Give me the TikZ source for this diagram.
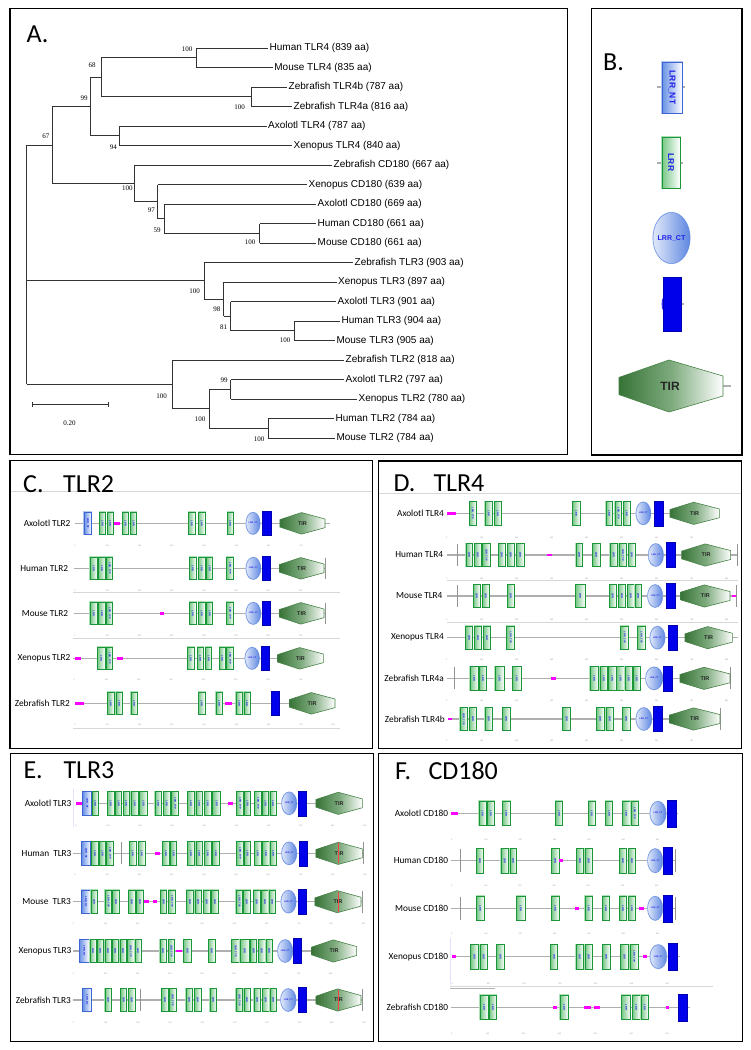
\documentclass[tikz,border=0pt]{standalone}
\usepackage{fontspec}
\setmainfont{Liberation Sans}
\newfontfamily\calfont{Carlito}
\newfontfamily\serfont{Liberation Serif}
\newcount\qnodecnt
\definecolor{lrrdark}{RGB}{25,150,55}
\definecolor{lrrlight}{RGB}{175,225,185}
\definecolor{lrrfill}{RGB}{120,200,135}
\definecolor{ntdark}{RGB}{60,100,210}
\definecolor{ntlight}{RGB}{180,200,240}
\definecolor{ntfill}{RGB}{105,145,230}
\definecolor{ctl}{RGB}{225,233,250}
\definecolor{ctr}{RGB}{95,135,225}
\definecolor{blueb}{RGB}{0,0,235}
\definecolor{pinkc}{RGB}{255,0,255}
\definecolor{tirdark}{RGB}{55,115,55}
\definecolor{tirmid}{RGB}{125,170,125}
\definecolor{tirline}{RGB}{70,130,70}
\definecolor{bbgray}{RGB}{175,175,175}
\definecolor{sepgray}{RGB}{215,215,215}
\definecolor{txtblue}{RGB}{30,30,230}
\tikzset{
 nm/.code={\global\advance\qnodecnt by 1\relax\edef\qtmp{\noexpand\tikzset{name=q\the\qnodecnt}}\qtmp},
 panel/.style={draw=black, line width=1.3pt},
 tree/.style={draw=black!80, line width=0.8pt},
 treelab/.style={nm, anchor=west, inner sep=0pt, font=\fontsize{10}{12}\selectfont},
 boot/.style={nm, inner sep=0pt, font=\serfont\fontsize{7}{8}\selectfont},
 paneltitle/.style={nm, anchor=base west, inner sep=0pt, font=\calfont\fontsize{26}{30}\selectfont},
 rowlab/.style={nm, anchor=east, inner sep=0pt, font=\calfont\fontsize{9.3}{11}\selectfont},
 rul/.style={nm, inner sep=0pt, text=gray!80, font=\fontsize{2}{2.4}\selectfont},
 bb/.style={draw=bbgray, line width=1.4pt},
 stub/.style={draw=bbgray, line width=1.5pt},
 vbar/.style={draw=gray!85, line width=0.9pt},
 sepline/.style={draw=sepgray, line width=0.6pt},
 lrrhalo/.style={draw=lrrlight, line width=1.4pt},
 lrrbox/.style={draw=lrrdark, line width=0.55pt, left color=lrrfill, right color=white},
 nthalo/.style={draw=ntlight, line width=1.4pt},
 ntbox/.style={draw=ntdark, line width=0.55pt, left color=ntfill, right color=white},
 cthalo/.style={draw=ntlight, line width=1.2pt},
 ctbox/.style={draw=ctr, line width=0.4pt, left color=ctl, right color=ctr},
 bluebox/.style={fill=blueb, draw=blue!70!black, line width=0.3pt},
 pinkbox/.style={fill=pinkc},
 tirbox/.style={draw=tirline, line width=0.6pt, left color=tirdark, right color=white, middle color=tirmid},
 lrrt/.style={nm, inner sep=0pt, rotate=-90, text=txtblue, font=\bfseries\fontsize{2.6}{3}\selectfont},
 ctt/.style={nm, inner sep=0pt, text=txtblue, font=\bfseries\fontsize{2.2}{2.6}\selectfont},
 tirt/.style={nm, inner sep=0pt, text=black!85, font=\bfseries\fontsize{5.5}{6}\selectfont},
}
\newcommand\qBk[2]{\draw[bb] (#1,\qry) -- (#2,\qry);}
\newcommand\qVb[1]{\draw[vbar] (#1,\qry-0.95*\qdh) -- (#1,\qry+0.95*\qdh);}
\newcommand\qRd[1]{\draw[draw=red!75, line width=0.5pt] (#1,\qry-0.85*\qdh) -- (#1,\qry+0.85*\qdh);}
\newcommand\qPk[2]{\path[pinkbox] (#1,\qry-4) rectangle (#2,\qry+4);}
\newcommand\qLx[3]{\path[lrrhalo] (#1,\qry-\qdh) rectangle (#2,\qry+\qdh);\path[lrrbox] (#1,\qry-\qdh) rectangle (#2,\qry+\qdh);\node[lrrt] at ({(#1+#2)/2},\qry) {#3};}
\newcommand\qLr[2]{\qLx{#1}{#2}{LRR}}
\newcommand\qLt[2]{\qLx{#1}{#2}{LRR\_TYP}}
\newcommand\qNt[2]{\path[nthalo] (#1,\qry-\qdh) rectangle (#2,\qry+\qdh);\path[ntbox] (#1,\qry-\qdh) rectangle (#2,\qry+\qdh);\node[lrrt] at ({(#1+#2)/2},\qry) {LRR\_NT};}
\newcommand\qEl[2]{%
\pgfmathsetlengthmacro\qrx{(#2-#1)/6}%
\pgfmathsetlengthmacro\qryy{0.97*\qdh/3}%
\path[cthalo] ({(#1+#2)/2},\qry) ellipse [x radius=\qrx, y radius=\qryy];
\path[ctbox] ({(#1+#2)/2},\qry) ellipse [x radius=\qrx, y radius=\qryy];
\node[ctt] at ({(#1+#2)/2},\qry) {LRR\_CT};}
\newcommand\qBl[2]{\path[bluebox] (#1,\qry-1.08*\qdh) rectangle (#2,\qry+1.08*\qdh);}
\newcommand\qTi[2]{%
\pgfmathsetmacro\qtm{#1+0.48*(#2-#1)}%
\pgfmathsetmacro\qtc{#1+0.5*(#2-#1)}%
\path[tirbox] (#1,\qry-0.33*\qdh) -- (\qtm,\qry-0.95*\qdh) -- (#2,\qry-0.38*\qdh) -- (#2,\qry+0.38*\qdh) -- (\qtm,\qry+0.95*\qdh) -- (#1,\qry+0.33*\qdh) -- cycle;
\node[tirt] at (\qtc,\qry) {TIR};}
\newcommand\qRu[4]{\foreach \qk in {1,...,#4}{\pgfmathsetmacro\qxx{#2+(\qk-1)*#3}\pgfmathtruncatemacro\qlab{(\qk-1)*100}\node[rul] at (\qxx,\qry+#1) {\qlab};}}
\begin{document}
\begin{tikzpicture}[x=1pt,y=-1pt]
\useasboundingbox[fill=white] (0,0) rectangle (750,1050);
% ---------- panel frames
\draw[panel] (10,8.3) rectangle (567.3,454.5);
\draw[panel] (591.7,8.3) rectangle (742,455);
\draw[panel] (10,460.5) rectangle (372.7,748.3);
\draw[panel] (378.5,461) rectangle (741.8,748.3);
\draw[panel] (10.5,753.3) rectangle (373.3,1041.7);
\draw[panel] (378.5,753.3) rectangle (742.3,1041.7);
% ---------- panel A : tree
\node[paneltitle] at (26.5,42) {A.};
\draw[tree] (26.6,144.9) -- (26.6,384.4);
\draw[tree] (26.6,144.9) -- (52.4,144.9);
\draw[tree] (26.6,280.8) -- (203.9,280.8);
\draw[tree] (26.6,384.4) -- (172.6,384.4);
\draw[tree] (52.4,106.5) -- (52.4,183.3);
\draw[tree] (52.4,106.5) -- (90.4,106.5);
\draw[tree] (52.4,183.3) -- (134.7,183.3);
\draw[tree] (90.4,77.25) -- (90.4,135.75);
\draw[tree] (90.4,77.25) -- (101,77.25);
\draw[tree] (90.4,135.75) -- (118.9,135.75);
\draw[tree] (101,57.75) -- (101,96.75);
\draw[tree] (101,57.75) -- (196.3,57.75);
\draw[tree] (101,96.75) -- (251,96.75);
\draw[tree] (196.3,48) -- (196.3,67.5);
\draw[tree] (196.3,48) -- (268,48);
\draw[tree] (196.3,67.5) -- (272.7,67.5);
\draw[tree] (251,87) -- (251,106.5);
\draw[tree] (251,87) -- (287,87);
\draw[tree] (251,106.5) -- (292,106.5);
\draw[tree] (118.9,126) -- (118.9,145.5);
\draw[tree] (118.9,126) -- (266.5,126);
\draw[tree] (118.9,145.5) -- (292,145.5);
\draw[tree] (134.7,165) -- (134.7,201.6);
\draw[tree] (134.7,165) -- (332,165);
\draw[tree] (134.7,201.6) -- (157.6,201.6);
\draw[tree] (157.6,184.5) -- (157.6,218.6);
\draw[tree] (157.6,184.5) -- (307,184.5);
\draw[tree] (157.6,218.6) -- (164.2,218.6);
\draw[tree] (164.2,204) -- (164.2,233.25);
\draw[tree] (164.2,204) -- (316,204);
\draw[tree] (164.2,233.25) -- (259.8,233.25);
\draw[tree] (259.8,223.5) -- (259.8,243);
\draw[tree] (259.8,223.5) -- (316,223.5);
\draw[tree] (259.8,243) -- (316,243);
\draw[tree] (203.9,262.5) -- (203.9,299);
\draw[tree] (203.9,262.5) -- (353,262.5);
\draw[tree] (203.9,299) -- (223.5,299);
\draw[tree] (223.5,282) -- (223.5,316.1);
\draw[tree] (223.5,282) -- (336.6,282);
\draw[tree] (223.5,316.1) -- (230.5,316.1);
\draw[tree] (230.5,301.5) -- (230.5,330.75);
\draw[tree] (230.5,301.5) -- (336,301.5);
\draw[tree] (230.5,330.75) -- (294.2,330.75);
\draw[tree] (294.2,321) -- (294.2,340.5);
\draw[tree] (294.2,321) -- (340,321);
\draw[tree] (294.2,340.5) -- (334.8,340.5);
\draw[tree] (172.6,360) -- (172.6,408.75);
\draw[tree] (172.6,360) -- (344,360);
\draw[tree] (172.6,408.75) -- (209.4,408.75);
\draw[tree] (209.4,389.25) -- (209.4,428.25);
\draw[tree] (209.4,389.25) -- (230.8,389.25);
\draw[tree] (209.4,428.25) -- (268.4,428.25);
\draw[tree] (230.8,379.5) -- (230.8,399);
\draw[tree] (230.8,379.5) -- (344,379.5);
\draw[tree] (230.8,399) -- (356.9,399);
\draw[tree] (268.4,418.5) -- (268.4,438);
\draw[tree] (268.4,418.5) -- (334,418.5);
\draw[tree] (268.4,438) -- (334.8,438);
\node[treelab] at (269.5,48) {Human TLR4 (839 aa)};
\node[treelab] at (274.2,67.5) {Mouse TLR4 (835 aa)};
\node[treelab] at (288.5,87) {Zebrafish TLR4b (787 aa)};
\node[treelab] at (293.5,106.5) {Zebrafish TLR4a (816 aa)};
\node[treelab] at (268,126) {Axolotl TLR4 (787 aa)};
\node[treelab] at (293.5,145.5) {Xenopus TLR4 (840 aa)};
\node[treelab] at (333.5,165) {Zebrafish CD180 (667 aa)};
\node[treelab] at (308.5,184.5) {Xenopus CD180 (639 aa)};
\node[treelab] at (317.5,204) {Axolotl CD180 (669 aa)};
\node[treelab] at (317.5,223.5) {Human CD180 (661 aa)};
\node[treelab] at (317.5,243) {Mouse CD180 (661 aa)};
\node[treelab] at (354.5,262.5) {Zebrafish TLR3 (903 aa)};
\node[treelab] at (338,282) {Xenopus TLR3 (897 aa)};
\node[treelab] at (337.5,301.5) {Axolotl TLR3 (901 aa)};
\node[treelab] at (341.5,321) {Human TLR3 (904 aa)};
\node[treelab] at (336.3,340.5) {Mouse TLR3 (905 aa)};
\node[treelab] at (345.5,360) {Zebrafish TLR2 (818 aa)};
\node[treelab] at (345.5,379.5) {Axolotl TLR2 (797 aa)};
\node[treelab] at (358.4,399) {Xenopus TLR2 (780 aa)};
\node[treelab] at (335.5,418.5) {Human TLR2 (784 aa)};
\node[treelab] at (336.3,438) {Mouse TLR2 (784 aa)};
\node[boot] at (187,49.3) {100};
\node[boot] at (92,65.7) {68};
\node[boot] at (84,98.7) {99};
\node[boot] at (239.5,107.3) {100};
\node[boot] at (113.3,147.3) {94};
\node[boot] at (45.8,136.7) {67};
\node[boot] at (127.3,188) {100};
\node[boot] at (151.3,210) {97};
\node[boot] at (157,230) {59};
\node[boot] at (250,242.7) {100};
\node[boot] at (194.7,291) {100};
\node[boot] at (216.8,309) {98};
\node[boot] at (223.5,327.3) {81};
\node[boot] at (285,340.7) {100};
\node[boot] at (224,380) {99};
\node[boot] at (161.5,396) {100};
\node[boot] at (200.2,419) {100};
\node[boot] at (259.2,439) {100};
\draw[tree] (32.5,404.3) -- (108,404.3);
\draw[tree] (32.5,401.8) -- (32.5,406.8);
\draw[tree] (108,401.8) -- (108,406.8);
\node[boot] at (69.4,423.3) {0.20};
% ---------- panel B : legend
\node[paneltitle] at (603,70) {B.};
\draw[stub] (656.7,87) -- (662,87);
\draw[stub] (682,87) -- (684.5,87);
\path[nthalo] (662,62) rectangle (682,113);
\path[ntbox] (662,62) rectangle (682,113);
\node[nm, rotate=-90, inner sep=0pt, text=txtblue, font=\bfseries\fontsize{8.5}{9}\selectfont] at (672,87.5) {LRR\_NT};
\draw[stub] (656.7,163) -- (662,163);
\draw[stub] (680,163) -- (683,163);
\path[lrrhalo] (662,137) rectangle (680,188);
\path[lrrbox] (662,137) rectangle (680,188);
\node[nm, rotate=-90, inner sep=0pt, text=txtblue, font=\bfseries\fontsize{8.5}{9}\selectfont] at (671,162.5) {LRR};
\path[cthalo] (671.5,238) ellipse [x radius=18.5pt, y radius=25.5pt];
\path[ctbox] (671.5,238) ellipse [x radius=18.5pt, y radius=25.5pt];
\node[nm, inner sep=0pt, text=txtblue, font=\bfseries\fontsize{7}{8}\selectfont] at (671.5,238) {LRR\_CT};
\draw[stub] (681,304) -- (684,304);
\path[fill=blue!80] (663,304) ellipse [x radius=1.3pt, y radius=6pt];
\path[bluebox] (663,277) rectangle (681,331);
\draw[stub] (723,386) -- (731,386);
\path[tirbox] (619,377.4) -- (669,360) -- (723,376) -- (723,396) -- (669,412) -- (619,394.6) -- cycle;
\node[nm, inner sep=0pt, text=black!85, font=\bfseries\fontsize{12}{13}\selectfont] at (670,386) {TIR};
% ---------- panel titles C-F
\draw[sepline] (10.7,491) -- (372,491);
\draw[sepline] (379,493.3) -- (741,493.3);
\node[paneltitle] at (23,492) {C.};
\node[paneltitle] at (63,492) {TLR2};
\node[paneltitle] at (393.3,491.7) {D.};
\node[paneltitle] at (433.3,491.7) {TLR4};
\node[paneltitle] at (23.3,778.3) {E.};
\node[paneltitle] at (63.3,778.3) {TLR3};
\node[paneltitle] at (395,779.3) {F.};
\node[paneltitle] at (428.3,779.3) {CD180};
% ---------- panel C : TLR2
\begin{scope}[shift={(10,460)}, x=0.33333pt, y=-0.33333pt]
\def\qdh{34}
\def\qry{190}
\node[rowlab] at (182,\qry) {Axolotl TLR2};
\qBk{195}{960}
\qNt{222}{245}
\qLr{268}{287}\qLr{292}{310}\qPk{312}{330}\qLr{337}{356}\qLr{362}{380}\qLr{535}{555}\qLr{565}{585}\qLr{652}{670}
\qEl{708}{750}\qBl{757}{782}\qTi{810}{945}
\qRu{68}{195}{96.9}{8}
\def\qry{325}
\node[rowlab] at (175,\qry) {Human TLR2};
\qBk{192}{945}
\qLr{240}{262}\qLr{265}{287}\qLt{290}{308}\qLr{538}{558}\qLr{565}{585}\qLr{590}{608}\qLt{650}{670}
\qEl{708}{752}\qBl{755}{780}\qTi{808}{942}\qVb{945}
\qRu{67}{195}{96.7}{8}
\draw[sepline] (190,\qry+73) -- (990,\qry+73);
\def\qry{460}
\node[rowlab] at (175,\qry) {Mouse TLR2};
\qBk{192}{945}
\qLr{240}{262}\qLr{265}{287}\qLt{290}{308}\qPk{450}{462}\qLr{538}{558}\qLr{565}{585}\qLr{590}{608}\qLt{650}{670}
\qEl{708}{752}\qBl{755}{780}\qTi{808}{942}\qVb{945}
\qRu{67}{195}{96.7}{8}
\draw[sepline] (190,\qry+75) -- (990,\qry+75);
\def\qry{595}
\node[rowlab] at (182,\qry) {Xenopus TLR2};
\qBk{190}{940}\qPk{195}{212}
\qLr{262}{285}\qLt{290}{308}\qPk{322}{338}\qLr{532}{552}\qLr{562}{580}\qLr{587}{605}\qLr{628}{645}\qLt{650}{670}
\qEl{705}{748}\qBl{752}{777}\qTi{803}{940}
\qRu{65}{192}{97.1}{8}
\def\qry{730}
\node[rowlab] at (180,\qry) {Zebrafish TLR2};
\qBk{195}{975}\qPk{195}{222}
\qLr{293}{312}\qLr{318}{337}\qLr{363}{382}\qLr{565}{585}\qLr{618}{637}\qPk{645}{665}\qLr{678}{697}\qLr{702}{720}
\qBl{782}{807}\qTi{838}{975}
\qRu{65}{195}{96.9}{9}
\draw[sepline] (190,\qry+75) -- (990,\qry+75);
\end{scope}
% ---------- panel D : TLR4
\begin{scope}[shift={(380,460)}, x=0.33333pt, y=-0.33333pt]
\def\qdh{35}
\def\qry{160}
\node[rowlab] at (192,\qry) {Axolotl TLR4};
\qBk{200}{1018}\qPk{200}{228}
\qLt{268}{288}\qLr{315}{337}\qLr{343}{363}\qLr{578}{600}\qLr{678}{698}\qLt{705}{725}\qLr{730}{750}
\qEl{768}{812}\qBl{822}{848}\qTi{870}{1018}
\qRu{72}{200}{105}{8}
\def\qry{285}
\node[rowlab] at (190,\qry) {Human TLR4};
\qBk{200}{1072}\qVb{232}\qVb{1072}
\qLr{258}{278}\qLr{283}{303}\qLt{308}{330}\qLr{355}{375}\qLr{382}{402}\qLr{410}{432}\qPk{502}{515}
\qLr{588}{608}\qLr{638}{660}\qLr{690}{712}\qLt{717}{740}\qLr{745}{765}
\qEl{805}{850}\qBl{858}{885}\qTi{905}{1052}
\qRu{70}{200}{105}{9}
\draw[sepline] (200,\qry+77) -- (1075,\qry+77);
\def\qry{408}
\node[rowlab] at (188,\qry) {Mouse TLR4};
\qBk{200}{1070}\qVb{232}\qVb{1068}
\qLr{280}{300}\qLr{307}{327}\qLr{382}{402}\qLr{587}{615}\qLr{688}{708}\qLr{715}{737}\qLr{742}{762}\qLr{765}{785}
\qEl{803}{848}\qBl{858}{885}\qTi{902}{1050}\qPk{1055}{1068}
\qRu{72}{200}{105}{9}
\draw[sepline] (200,\qry+79) -- (1075,\qry+79);
\def\qry{533}
\node[rowlab] at (192,\qry) {Xenopus TLR4};
\qBk{200}{1075}
\qLr{257}{278}\qLr{283}{305}\qLr{310}{332}\qLt{380}{403}\qLt{722}{745}\qLt{773}{795}
\qEl{810}{855}\qBl{865}{890}\qTi{915}{1057}
\qRu{67}{200}{105}{9}
\def\qry{655}
\node[rowlab] at (192,\qry) {Zebrafish TLR4a};
\qBk{200}{1050}\qVb{222}\qVb{1050}
\qLr{270}{295}\qLr{298}{320}\qLr{345}{372}\qLr{398}{423}\qPk{513}{527}
\qLr{630}{655}\qLr{660}{682}\qLr{685}{708}\qLr{710}{733}\qLr{735}{758}\qLr{760}{780}
\qEl{797}{848}\qBl{850}{877}\qTi{900}{1050}
\qRu{67}{200}{105}{9}
\def\qry{777}
\node[rowlab] at (195,\qry) {Zebrafish TLR4b};
\qBk{205}{1020}\qPk{205}{217}\qVb{1020}
\qLt{240}{262}\qLr{268}{290}\qLr{315}{337}\qLr{368}{390}\qLr{548}{572}\qLr{650}{672}\qLr{678}{700}\qLr{728}{750}
\qEl{768}{815}\qBl{820}{847}\qTi{868}{1020}
\qRu{65}{200}{105}{8}
\end{scope}
% ---------- panel E : TLR3
\begin{scope}[shift={(10,690)}, x=0.33333pt, y=-0.33333pt]
\def\qdh{35}
\def\qry{340}
\draw[draw=blue!12, line width=0.5pt] (190,298) -- (190,410);
\node[rowlab] at (185,\qry) {Axolotl TLR3};
\qBk{198}{1057}\qPk{198}{215}
\qNt{218}{245}\qLr{247}{265}\qLr{292}{312}\qLr{317}{335}\qLr{340}{358}\qLr{363}{385}\qLr{388}{413}
\qLr{435}{455}\qLr{460}{480}\qLt{485}{505}\qLr{533}{553}\qLr{558}{578}\qLr{583}{603}\qLr{608}{632}\qPk{653}{668}
\qLt{680}{700}\qLr{703}{722}\qLt{733}{755}\qLr{758}{775}\qLr{780}{798}
\qEl{815}{860}\qBl{865}{888}\qTi{918}{1057}
\qRu{68}{198}{96.3}{10}
\def\qry{490}
\node[rowlab] at (185,\qry) {Human\hspace{2pt} TLR3};
\qBk{190}{1060}\qVb{333}\qVb{1060}
\qNt{215}{242}\qLr{245}{265}\qLr{268}{287}\qLt{290}{310}\qLr{358}{378}\qLr{385}{405}\qPk{435}{450}
\qLr{458}{478}\qLr{482}{500}\qLr{533}{553}\qLr{558}{578}\qLr{583}{603}\qLr{608}{628}
\qLt{680}{700}\qLr{703}{722}\qLr{733}{753}\qLr{758}{778}\qLr{780}{800}
\qEl{815}{860}\qBl{867}{890}\qTi{918}{1057}\qRd{985}
\qRu{63}{195}{96.7}{10}
\def\qry{635}
\node[rowlab] at (183,\qry) {Mouse\hspace{2pt} TLR3};
\qBk{190}{1057}\qVb{1057}
\qNt{215}{240}\qLr{243}{262}\qLt{285}{305}\qLr{308}{328}\qLr{355}{375}\qLr{380}{400}\qPk{403}{418}\qPk{428}{442}
\qLr{452}{470}\qLt{475}{497}\qLr{530}{550}\qLr{555}{575}\qLr{580}{600}\qLr{605}{625}
\qLt{678}{698}\qLr{700}{720}\qLr{730}{750}\qLr{755}{775}\qLr{777}{797}
\qEl{813}{858}\qBl{865}{887}\qTi{915}{1053}\qRd{985}
\qRu{65}{190}{96.7}{10}
\def\qry{783}
\node[rowlab] at (185,\qry) {Xenopus TLR3};
\qBk{190}{1040}
\qNt{208}{237}\qLr{240}{258}\qLr{262}{280}\qLr{285}{303}\qLr{307}{325}\qLr{330}{348}\qLt{352}{372}\qLr{375}{393}
\qLr{450}{468}\qLt{475}{493}\qPk{497}{515}\qLr{520}{545}\qLr{595}{615}
\qLt{665}{688}\qLr{690}{718}\qLr{722}{740}\qLr{745}{765}\qLr{768}{788}
\qEl{803}{848}\qBl{850}{873}\qTi{905}{1040}
\qRu{67}{190}{96.5}{9}
\def\qry{930}
\node[rowlab] at (183,\qry) {Zebrafish TLR3};
\qBk{190}{1057}\qVb{330}\qVb{392}\qVb{1057}
\qNt{218}{245}\qLr{285}{305}\qLr{332}{350}\qLr{355}{375}\qLr{455}{475}\qLt{478}{498}
\qLr{528}{548}\qLr{553}{573}\qLr{600}{620}\qLt{678}{698}\qLr{702}{720}\qLr{732}{752}\qLr{757}{777}\qLr{780}{800}
\qEl{812}{858}\qBl{865}{888}\qTi{918}{1053}\qRd{985}
\qRu{68}{190}{96.9}{10}
\end{scope}
% ---------- panel F : CD180
\begin{scope}[shift={(380,690)}, x=0.33333pt, y=-0.33333pt]
\def\qdh{37}
\def\qry{370}
\node[rowlab] at (205,\qry) {Axolotl CD180};
\qBk{212}{895}\qPk{212}{235}
\qLr{297}{318}\qLr{322}{343}\qLr{368}{390}\qLr{527}{548}\qLr{625}{645}\qLr{677}{698}\qLr{728}{750}\qLt{753}{775}
\qEl{810}{858}\qBl{860}{887}
\qRu{78}{215}{103}{7}
\def\qry{512}
\node[rowlab] at (205,\qry) {Human CD180};
\qBk{212}{885}\qVb{240}\qVb{885}
\qLr{290}{310}\qLr{363}{385}\qLr{390}{410}\qLr{515}{537}\qPk{537}{550}\qLr{590}{610}\qLr{615}{637}\qLr{718}{740}\qLr{745}{767}
\qEl{803}{848}\qBl{850}{877}
\qRu{76}{215}{102.5}{7}
\def\qry{655}
\node[rowlab] at (205,\qry) {Mouse CD180};
\qBk{212}{885}\qVb{240}\qVb{885}
\qLr{290}{312}\qLr{410}{435}\qLr{515}{537}\qPk{585}{597}\qLr{615}{637}\qLr{668}{688}\qLr{718}{740}\qLr{745}{767}\qPk{778}{792}
\qEl{803}{848}\qBl{850}{877}
\qRu{75}{215}{103}{7}
\def\qry{800}
\draw[draw=blue!12, line width=0.5pt] (210,745) -- (210,885);
\draw[draw=sepgray, line width=0.5pt] (210,888) -- (1000,888);
\draw[draw=gray!60, line width=0.6pt] (210,895) -- (345,895);
\node[rowlab] at (205,\qry) {Xenopus CD180};
\qBk{215}{900}\qPk{215}{228}
\qLr{272}{295}\qLr{300}{322}\qLr{350}{373}\qLr{512}{533}\qLr{588}{610}\qLr{615}{637}\qLr{668}{690}\qLr{722}{745}\qLt{750}{775}\qPk{788}{800}
\qEl{810}{860}\qBl{863}{890}
\qRu{82}{218}{107.3}{7}
\def\qry{952}
\node[rowlab] at (205,\qry) {Zebrafish CD180};
\qBk{212}{930}
\qLr{300}{325}\qLr{328}{350}\qPk{520}{532}\qLr{540}{565}\qPk{613}{632}\qPk{642}{660}\qLr{725}{752}\qLr{757}{780}\qLr{783}{805}\qPk{858}{868}
\qBl{893}{920}
\qRu{80}{215}{107.8}{7}
\end{scope}
\end{tikzpicture}
\end{document}
